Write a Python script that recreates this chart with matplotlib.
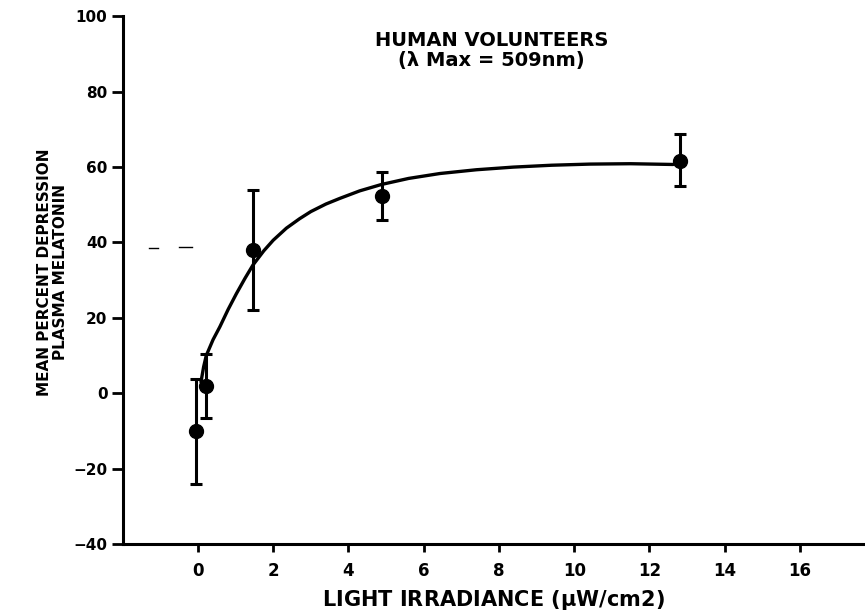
import numpy as np
import matplotlib
matplotlib.use("Agg")
import matplotlib.pyplot as plt

irradiance = [-0.04, 0.22, 1.46, 4.88, 12.81]
depression = [-10.0, 2.0, 38.0, 52.3, 61.7]
err_up = [13.8, 8.5, 15.8, 6.4, 7.0]
err_dn = [14.0, 8.7, 16.0, 6.4, 6.8]

# hand-drawn fitted curve
curve_x = [0.08, 0.15, 0.22, 0.4, 0.58, 0.8, 1.02, 1.25, 1.46, 1.75, 2.0, 2.35,
           2.7, 3.0, 3.4, 3.77, 4.3, 4.88, 5.6, 6.43, 7.4, 8.38, 9.4, 10.42,
           11.5, 12.63]
curve_y = [3.0, 7.0, 10.0, 14.2, 17.6, 22.2, 26.4, 30.5, 34.0, 37.8, 40.6, 43.8,
           46.3, 48.2, 50.2, 51.7, 53.7, 55.4, 57.0, 58.3, 59.3, 60.0, 60.5, 60.8,
           60.9, 60.7]

xticks = [0, 2, 4, 6, 8, 10, 12, 14, 16]
yticks = [-40, -20, 0, 20, 40, 60, 80, 100]

plt.rcParams['font.family'] = 'DejaVu Sans'
plt.rcParams['font.weight'] = 'bold'
plt.rcParams['axes.labelweight'] = 'bold'

fig = plt.figure(figsize=(8.65, 6.13), dpi=100)
ax = fig.add_axes([0.1419, 0.1126, 0.8581, 0.8607])

ax.plot(curve_x, curve_y, '-', color='black', lw=2.4, solid_capstyle='round',
        solid_joinstyle='round')
ax.errorbar(irradiance, depression, yerr=[err_dn, err_up], fmt='o', color='black',
            ms=10, elinewidth=2.2, capsize=4, capthick=2.2)

# stray scan mark left of the data
ax.plot([-1.3, -1.05], [38.5, 38.5], color='black', lw=1.0)
ax.plot([-0.5, -0.15], [38.7, 38.7], color='black', lw=1.0)

ax.set_xlim(-2.0, 17.73)
ax.set_ylim(-40, 100)
ax.set_xticks(xticks)
ax.set_yticks(yticks)
ax.tick_params(axis='y', length=8, width=2, pad=3, labelsize=11)
ax.tick_params(axis='x', length=6, width=2, pad=7, labelsize=12)

for s in ['top', 'right']:
    ax.spines[s].set_visible(False)
for s in ['left', 'bottom']:
    ax.spines[s].set_linewidth(2.2)

ax.set_xlabel(r"LIGHT IRRADIANCE ($\mathbf{\mu}$W/cm2)", fontsize=15, labelpad=6)
ax.set_ylabel("MEAN PERCENT DEPRESSION\nPLASMA MELATONIN", fontsize=11,
              linespacing=1.1)
ax.yaxis.set_label_coords(-0.074, 0.515)

ax.text(7.8, 96, "HUMAN VOLUNTEERS\n(\u03bb Max = 509nm)", ha='center', va='top',
        fontsize=14, linespacing=1.05)

fig.savefig("out.png", dpi=100)
